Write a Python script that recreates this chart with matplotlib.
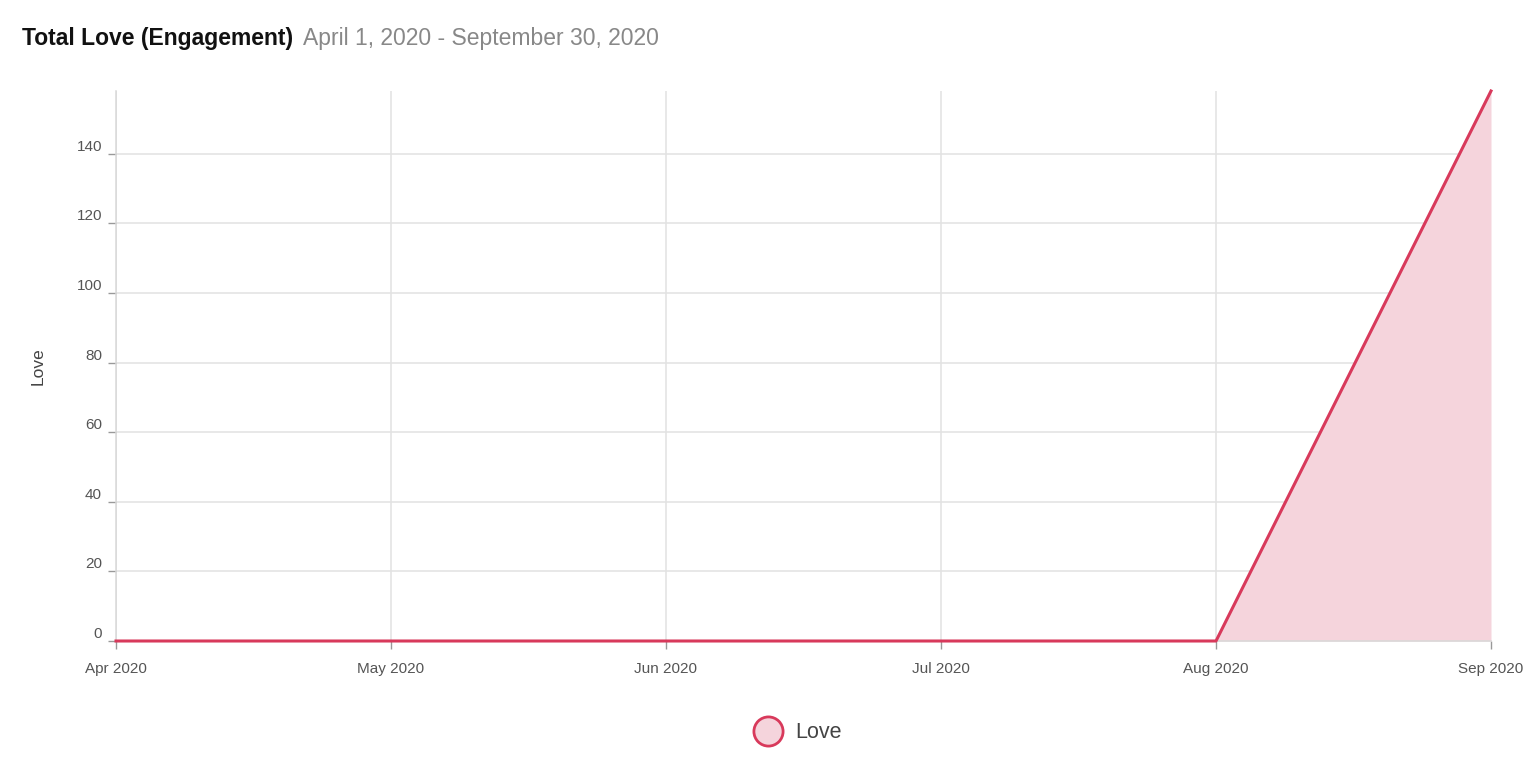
import numpy as np
import matplotlib.pyplot as plt
from matplotlib.lines import Line2D

plt.rcParams['font.family'] = ['Liberation Sans', 'DejaVu Sans']

# Monthly love engagement
months = ['Apr 2020', 'May 2020', 'Jun 2020', 'Jul 2020', 'Aug 2020', 'Sep 2020']
love = [0, 0, 0, 0, 0, 158]
y_ticks = [0, 20, 40, 60, 80, 100, 120, 140]

line_color = '#d8395b'
fill_color = '#f5d4dc'

fig = plt.figure(figsize=(15.36, 7.74), dpi=100)
ax = fig.add_axes([116 / 1536, 133 / 774, (1491 - 116) / 1536, (641 - 91) / 774])

x = np.arange(len(months))
ax.fill_between(x, love, 0, color=fill_color, linewidth=0, zorder=2)
ax.plot(x, love, color=line_color, linewidth=2.2, zorder=3, clip_on=False)

ax.set_xlim(0, len(months) - 1)
ax.set_ylim(0, max(love))
ax.set_xticks(x)
ax.set_xticklabels(months)
ax.set_yticks(y_ticks)

ax.grid(True, color='#e2e2e2', linewidth=1.1, zorder=0)
ax.set_axisbelow(True)
for side in ['top', 'right']:
    ax.spines[side].set_visible(False)
ax.spines['left'].set_color('#d8d8d8')
ax.spines['bottom'].set_color('#d8d8d8')
ax.spines['left'].set_linewidth(1.1)
ax.spines['bottom'].set_linewidth(1.1)

ax.tick_params(axis='both', colors='#999999', labelcolor='#555555',
               labelsize=11, length=6, width=1)
ax.tick_params(axis='y', pad=4)
ax.tick_params(axis='x', pad=9)
for lab in ax.get_yticklabels():
    lab.set_verticalalignment('bottom')

ax.set_ylabel('Love', fontsize=12.5, color='#444444', labelpad=22)

fig.text(22 / 1536, 1 - 39 / 774, 'Total Love (Engagement)', fontsize=16.5,
         fontweight='bold', color='#111111', va='center', ha='left')
fig.text(303 / 1536, 1 - 39 / 774, 'April 1, 2020 - September 30, 2020',
         fontsize=16.5, color='#888888', va='center', ha='left')

handle = Line2D([], [], marker='o', linestyle='none', markersize=21,
                markerfacecolor=fill_color, markeredgecolor=line_color,
                markeredgewidth=2)
fig.legend([handle], ['Love'], loc='center', bbox_to_anchor=(794 / 1536, 1 - 733 / 774),
           frameon=False, fontsize=15.5, labelcolor='#444444', handletextpad=0.25)

fig.savefig('out.png', dpi=100)
